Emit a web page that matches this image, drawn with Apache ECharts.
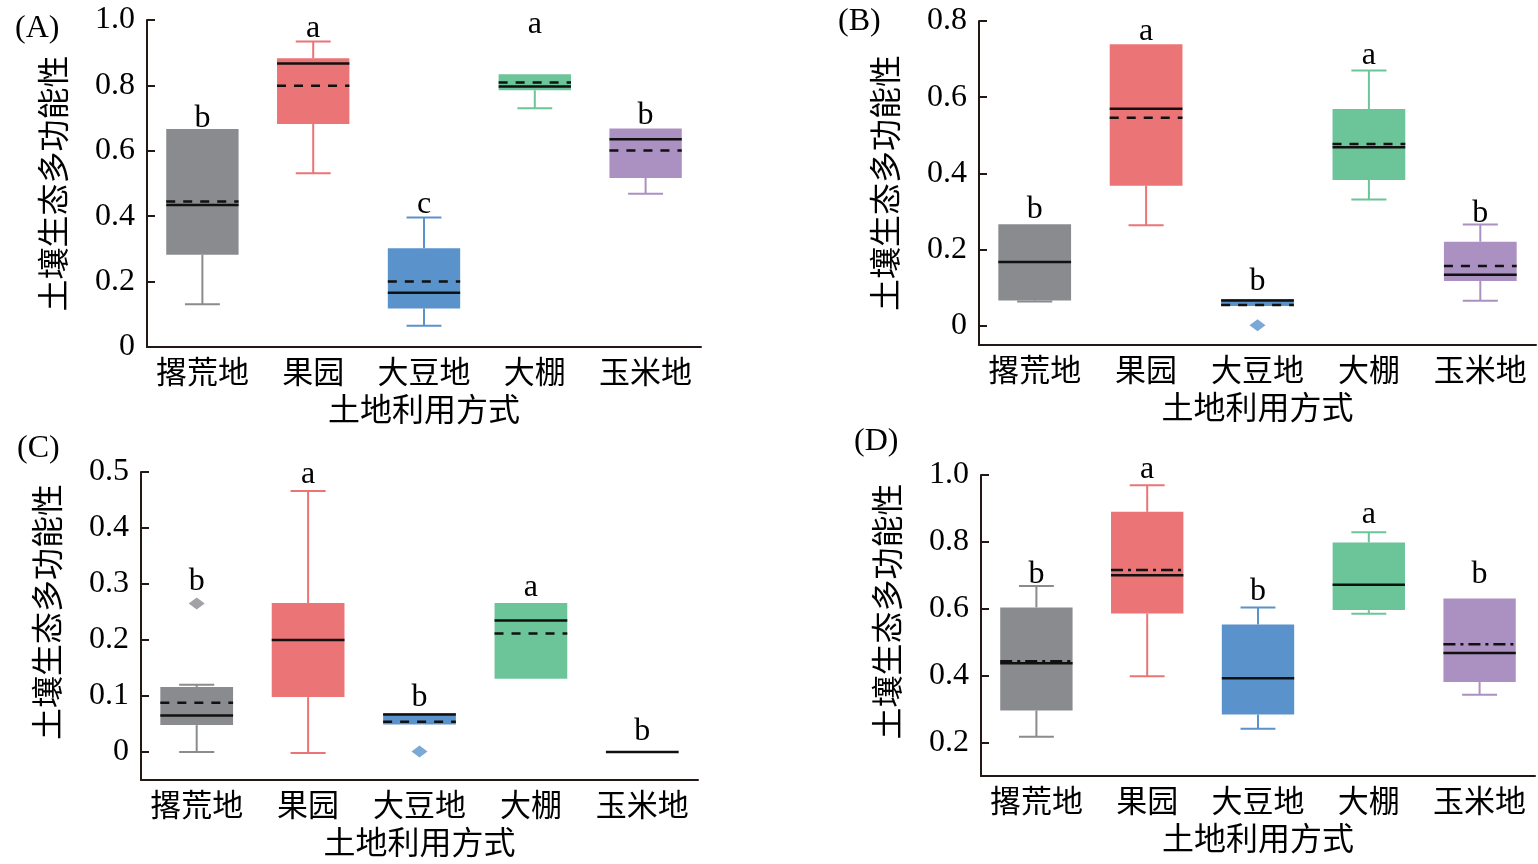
<!DOCTYPE html>
<html>
<head>
<meta charset="utf-8">
<script src="https://cdn.jsdelivr.net/npm/echarts@6/dist/echarts.min.js"></script>
<style>
  html, body { margin: 0; padding: 0; background: #fff; }
  #main { width: 1538px; height: 864px; }
</style>
</head>
<body>
<div id="main"></div>
<script>
// 土地利用方式
var categories = ['撂荒地', '果园', '大豆地', '大棚', '玉米地'];
var boxColors = ['#8a8b8e', '#ea7476', '#5a92cb', '#6cc499', '#ab90c2'];

// [下须, Q1, 中位数, Q3, 上须]
var statsA = [
  [0.131, 0.282, 0.434, 0.667, 0.667],
  [0.531, 0.682, 0.867, 0.883, 0.934],
  [0.065, 0.118, 0.166, 0.302, 0.396],
  [0.730, 0.785, 0.797, 0.834, 0.834],
  [0.469, 0.517, 0.635, 0.668, 0.668]
];
var meanA = [0.445, 0.799, 0.200, 0.809, 0.601];
var outlierA = [];
var letterA = ['b', 'a', 'c', 'a', 'b'];
var letterPosA = [0.700, 0.975, 0.437, 0.986, 0.708];

var statsB = [
  [0.064, 0.067, 0.168, 0.267, 0.267],
  [0.264, 0.368, 0.570, 0.739, 0.739],
  [0.052, 0.052, 0.067, 0.071, 0.071],
  [0.332, 0.383, 0.469, 0.569, 0.670],
  [0.066, 0.118, 0.134, 0.221, 0.266]
];
var meanB = [null, 0.546, 0.055, 0.477, 0.157];
var outlierB = [[2, 0.002]];
var letterB = ['b', 'a', 'b', 'a', 'b'];
var letterPosB = [0.304, 0.773, 0.116, 0.709, 0.296];

var statsC = [
  [0.000, 0.048, 0.065, 0.116, 0.120],
  [-0.002, 0.098, 0.200, 0.266, 0.466],
  [0.049, 0.049, 0.067, 0.069, 0.069],
  [0.131, 0.131, 0.235, 0.266, 0.266],
  [0.000, 0.000, 0.000, 0.000, 0.000]
];
var meanC = [0.088, null, 0.054, 0.2115, null];
var outlierC = [[0, 0.265], [2, 0.001]];
var letterC = ['b', 'a', 'b', 'a', 'b'];
var letterPosC = [0.304, 0.496, 0.098, 0.294, 0.037];

var statsD = [
  [0.217, 0.296, 0.437, 0.604, 0.668],
  [0.398, 0.586, 0.700, 0.890, 0.969],
  [0.241, 0.284, 0.392, 0.553, 0.604],
  [0.585, 0.596, 0.672, 0.798, 0.829],
  [0.343, 0.381, 0.468, 0.631, 0.631]
];
var meanD = [0.443, 0.716, null, null, 0.494];
var outlierD = [];
var letterD = ['b', 'a', 'b', 'a', 'b'];
var letterPosD = [0.702, 1.016, 0.652, 0.882, 0.702];

var ticksB = [0, 0.2, 0.4, 0.6, 0.8];
var ticksC = [0, 0.1, 0.2, 0.3, 0.4, 0.5];
var ticksD = [0.2, 0.4, 0.6, 0.8, 1.0];

var FONT = "'Liberation Serif', 'Noto Sans CJK SC', serif";
var AXIS_COLOR = '#231815';

var chart = echarts.init(document.getElementById('main'));

function fmt(v) {
  return v === 0 ? '0' : v.toFixed(1);
}

function makeX(idx) {
  return {
    type: 'category',
    gridIndex: idx,
    data: categories,
    name: '土地利用方式',
    nameLocation: 'middle',
    nameGap: 50,
    nameTextStyle: { fontFamily: FONT, fontSize: 32, color: '#000' },
    axisLine: { onZero: false, lineStyle: { color: AXIS_COLOR, width: 2 } },
    axisTick: { alignWithLabel: true, interval: 0, inside: true, length: 6, lineStyle: { color: AXIS_COLOR, width: 2 } },
    axisLabel: { interval: 0, fontFamily: FONT, fontSize: 31, color: '#000', margin: 12 },
    splitLine: { show: false }
  };
}

function makeY(idx, min, max, ticks, shift) {
  var ax = {
    type: 'value',
    gridIndex: idx,
    min: min,
    max: max,
    name: '土壤生态多功能性',
    nameLocation: 'middle',
    nameGap: 74,
    nameRotate: 90,
    nameTextStyle: { fontFamily: FONT, fontSize: 32, color: '#000', padding: [0, 0, 0, shift] },
    axisLine: { show: true, onZero: false, lineStyle: { color: AXIS_COLOR, width: 2 } },
    axisTick: { show: true, inside: true, length: 8, lineStyle: { color: AXIS_COLOR, width: 2 } },
    axisLabel: { fontFamily: FONT, fontSize: 32, color: '#000', margin: 12, formatter: fmt },
    splitLine: { show: false }
  };
  if (ticks) {
    ax.axisTick.customValues = ticks;
    ax.axisLabel.customValues = ticks;
  } else {
    ax.interval = 0.2;
  }
  return ax;
}

function boxSeries(idx, stats, means, dash) {
  var data = stats.map(function (s, i) { return [i, s[0], s[1], s[2], s[3], s[4]]; });
  return {
    type: 'custom',
    xAxisIndex: idx,
    yAxisIndex: idx,
    encode: { x: 0, y: [1, 2, 3, 4, 5] },
    data: data,
    renderItem: function (params, api) {
      var i = api.value(0);
      var band = api.size([1, 0])[0];
      var bw = band * 0.653, cw = band * 0.315;
      var pt = function (v) { return api.coord([i, v]); };
      var lo = pt(api.value(1)), q1 = pt(api.value(2)), md = pt(api.value(3));
      var q3 = pt(api.value(4)), hi = pt(api.value(5));
      var cx = md[0];
      var col = boxColors[i];
      var ws = { stroke: col, lineWidth: 2 };
      var kids = [];
      if (hi[1] < q3[1] - 0.5) {
        kids.push({ type: 'line', shape: { x1: cx, y1: q3[1], x2: cx, y2: hi[1] }, style: ws });
        kids.push({ type: 'line', shape: { x1: cx - cw / 2, y1: hi[1], x2: cx + cw / 2, y2: hi[1] }, style: ws });
      }
      if (lo[1] > q1[1] + 0.5) {
        kids.push({ type: 'line', shape: { x1: cx, y1: q1[1], x2: cx, y2: lo[1] }, style: ws });
        kids.push({ type: 'line', shape: { x1: cx - cw / 2, y1: lo[1], x2: cx + cw / 2, y2: lo[1] }, style: ws });
      }
      kids.push({
        type: 'rect',
        shape: { x: cx - bw / 2, y: q3[1], width: bw, height: q1[1] - q3[1] },
        style: { fill: col }
      });
      kids.push({
        type: 'line',
        shape: { x1: cx - bw / 2, y1: md[1], x2: cx + bw / 2, y2: md[1] },
        style: { stroke: '#111', lineWidth: 2.5 }
      });
      var m = means[params.dataIndex];
      if (m !== null && m !== undefined) {
        var mp = pt(m);
        kids.push({
          type: 'line',
          shape: { x1: cx - bw / 2, y1: mp[1], x2: cx + bw / 2, y2: mp[1] },
          style: { stroke: '#111', lineWidth: 2.5, lineDash: dash }
        });
      }
      return { type: 'group', children: kids };
    },
    z: 2
  };
}

function outlierSeries(idx, pts) {
  return {
    type: 'scatter',
    xAxisIndex: idx,
    yAxisIndex: idx,
    symbol: 'diamond',
    symbolSize: [16, 12],
    data: pts,
    itemStyle: { color: function (p) { return boxColors[p.value[0]]; } },
    z: 3
  };
}

function letterSeries(idx, letters, pos) {
  return {
    type: 'custom',
    xAxisIndex: idx,
    yAxisIndex: idx,
    clip: false,
    data: pos.map(function (v, i) { return [i, v]; }),
    renderItem: function (params, api) {
      var c = api.coord([api.value(0), api.value(1)]);
      return {
        type: 'text',
        x: c[0],
        y: c[1],
        style: {
          text: letters[params.dataIndex],
          font: '32px ' + FONT,
          fill: '#000',
          align: 'center',
          verticalAlign: 'middle'
        }
      };
    },
    z: 4
  };
}

var titleStyle = { fontFamily: FONT, fontSize: 32, fontWeight: 'normal', color: '#000' };

option = {
  backgroundColor: '#fff',
  animation: false,
  title: [
    { text: '(A)', left: 10, top: 8, textStyle: titleStyle },
    { text: '(B)', left: 833, top: 1, textStyle: titleStyle },
    { text: '(C)', left: 12, top: 428, textStyle: titleStyle },
    { text: '(D)', left: 849, top: 421, textStyle: titleStyle }
  ],
  grid: [
    { left: 147, top: 20, width: 554, height: 327 },
    { left: 979, top: 21, width: 557, height: 324 },
    { left: 141, top: 472, width: 557, height: 308 },
    { left: 981, top: 475, width: 554, height: 301 }
  ],
  xAxis: [makeX(0), makeX(1), makeX(2), makeX(3)],
  yAxis: [
    makeY(0, 0, 1.0, null, 0),
    makeY(1, -0.05, 0.8, ticksB, 0),
    makeY(2, -0.05, 0.5, ticksC, 28),
    makeY(3, 0.1, 1.0, ticksD, 28)
  ],
  series: [
    boxSeries(0, statsA, meanA, [9, 8]),
    boxSeries(1, statsB, meanB, [9, 8]),
    boxSeries(2, statsC, meanC, [9, 8]),
    boxSeries(3, statsD, meanD, [12, 5, 3, 5]),
    outlierSeries(0, outlierA),
    outlierSeries(1, outlierB),
    outlierSeries(2, outlierC),
    outlierSeries(3, outlierD),
    letterSeries(0, letterA, letterPosA),
    letterSeries(1, letterB, letterPosB),
    letterSeries(2, letterC, letterPosC),
    letterSeries(3, letterD, letterPosD)
  ]
};

chart.setOption(option);
</script>
</body>
</html>
